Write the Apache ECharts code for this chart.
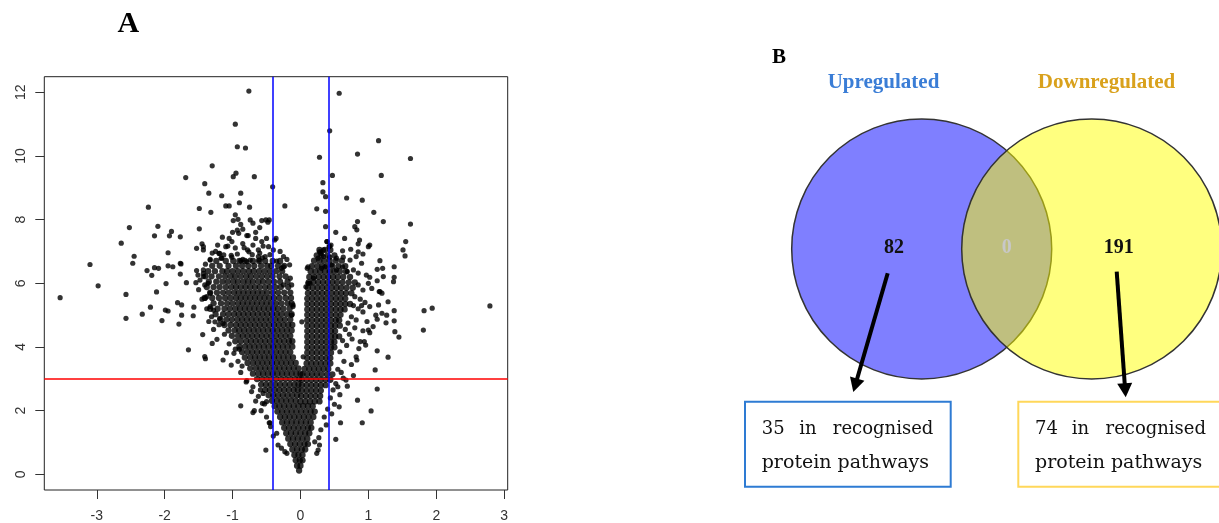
<!DOCTYPE html>
<html><head><meta charset="utf-8">
<script src="https://cdn.jsdelivr.net/npm/echarts@6/dist/echarts.min.js"></script>
<style>html,body{margin:0;padding:0;background:#fff}#c{width:1219px;height:523px}</style>
</head><body><div id="c"></div>
<script>
// ---- Panel A: volcano plot values (log2 fold change, -log10 p) ----
const xTicks=[-3,-2,-1,0,1,2,3];
const yTicks=[0,2,4,6,8,10,12];
const pThreshold=3;
const fcThresholds=[-0.415,0.415];

const leftOuter=[
[-3.54,5.55],[-3.10,6.59],[-2.98,5.92],[-2.57,5.65],[-2.57,4.90],[-2.47,6.63],[-2.33,5.03],[-2.26,6.40],[-2.21,5.25],[-2.19,6.25],[-2.15,6.49],[-2.09,6.47],[-2.12,5.73],[-2.04,4.83],[-1.99,5.16],[-1.95,5.13],[-1.98,5.99],[-1.95,6.55],[-1.88,6.52],[-1.77,6.63],[-1.77,6.29],[-1.81,5.39],[-1.75,5.32],[-1.75,5.00],[-1.79,4.72],[-1.68,6.02],[-1.65,3.91],[-1.58,4.98],[-1.57,5.25],[-1.54,6.02],[-1.44,4.39],[-1.41,3.70],[-1.40,3.63],[-1.43,6.31],[-1.30,4.11],[-1.23,4.24],[-1.14,3.59],[-1.09,3.82],[-1.02,3.43],[-0.96,3.93],[-0.90,3.93],[-0.86,3.40],[-0.79,2.94],[-0.88,2.15],[-0.70,1.94],[-0.68,2.00],[-0.51,0.76],[-0.59,2.65],[-0.55,2.54],[-0.53,2.21],[-0.46,1.62],
[-0.76,12.04],[-0.96,11.00],[-0.93,10.29],[-0.81,10.25],[-1.30,9.69],[-1.69,9.32],[-1.41,9.13],[-0.99,9.35],[-0.95,9.46],[-0.68,9.35],[-0.41,9.03],[-1.35,8.83],[-1.16,8.75],[-0.88,8.83],[-2.24,8.39],[-1.49,8.35],[-1.32,8.23],[-1.10,8.43],[-1.05,8.43],[-0.90,8.53],[-0.75,8.39],[-0.96,8.15],[-2.52,7.75],[-2.10,7.79],[-1.49,7.71],[-1.90,7.63],[-2.15,7.49],[-1.93,7.49],[-1.77,7.46],[-2.64,7.26],[-2.45,6.85],[-1.95,6.96],[-1.53,7.10],[-1.45,7.24],[-1.43,7.15],[-1.33,6.73],[-1.20,6.94],[-1.17,6.79],
[-0.23,8.43],[-0.99,7.97],[-0.92,8.01],[-0.88,7.85],[-0.74,7.99],[-0.70,7.89],[-0.57,7.97],[-0.46,7.99],[-0.51,7.99],[-0.48,7.92],
[-0.93,7.67],[-0.91,7.57],[-0.79,7.50],[-0.77,7.50],[-1.05,7.41],[-1.01,7.31],[-0.66,7.41],[-0.57,7.31],[-0.50,7.41],[-0.38,7.36],[-0.36,7.41],[-1.43,7.05],[-1.10,7.15],[-1.07,7.17],[-0.96,7.11],[-0.78,7.05],[-0.76,6.99],[-0.62,7.05],[-0.55,7.17],[-0.47,7.15],[-1.19,6.94],[-1.16,6.79],[-1.13,6.89],[-1.01,6.82],[-0.88,6.71],[-0.85,6.75],[-0.79,6.68],[-0.74,6.73],[-0.62,6.84],[-0.61,6.73],[-0.52,6.84],[-0.25,6.84],[-0.20,6.75],[-1.33,6.75],[-1.76,6.61],[-0.25,6.52],[-0.28,6.47],
[-1.53,6.40],[-1.43,6.42],[-1.51,6.26],[-1.43,6.21],[-1.41,5.95],[-1.36,6.00],[-1.38,5.58],[-1.33,5.69],[-1.41,5.53],[-1.33,5.27],[-1.28,5.16],[-1.31,4.95],[-1.26,4.79],[-1.19,4.90],[-1.14,4.74],
[-1.12,4.40],[-1.05,4.10],[-0.98,3.80],[-1.20,4.70],[-0.92,3.55],[-0.88,3.20],[-0.80,2.90],[-0.72,2.60],[-0.66,2.30],[-0.58,2.00],[-0.50,1.80],[-0.44,1.50],[-0.40,1.20],[-0.62,2.45],[-0.70,2.75],[-1.28,4.55],[-1.35,4.80],[-1.38,5.20],[-1.45,5.50],[-1.50,5.80],[-1.48,6.10],[-1.40,6.60],[-1.30,6.95],[-1.22,7.20],[-1.15,7.45],[-1.25,7.00],[-0.85,7.25],[-0.70,7.20],[-0.60,6.95],[-0.45,6.90],[-0.35,6.70],[-0.30,7.00],[-0.40,7.05],
[-1.02,6.88],[-0.93,6.92],[-0.71,6.90],[-0.56,6.80],[-0.83,7.12],[-0.66,7.60],[-0.85,7.70],[-0.60,7.75],[-1.00,7.60],
[-0.56,2.23],[-0.50,2.28],[-0.45,1.62],[-0.35,1.29],[-0.33,0.92],[-0.28,0.82],[-0.23,0.71],[-0.20,0.66],
[-0.15,6.16],[-0.13,5.95],[-0.25,5.95],[-0.16,6.58],[-0.11,5.32],[-0.13,5.00],[-0.11,5.27]
];

const leftCoreRows=[
[6.70,[-1.24,-1.10,-0.99,-0.90,-0.82,-0.70,-0.61,-0.52,-0.41,-0.30]],
[6.55,[-1.30,-1.19,-1.06,-0.95,-0.86,-0.77,-0.68,-0.58,-0.49,-0.43,-0.33,-0.24]],
[6.38,[-1.36,-1.26,-1.15,-1.08,-1.00,-0.92,-0.84,-0.76,-0.69,-0.61,-0.53,-0.45,-0.36,-0.27]],
[6.22,[-1.40,-1.31,-1.20,-1.11,-1.03,-0.96,-0.88,-0.80,-0.73,-0.65,-0.57,-0.49,-0.41,-0.31,-0.22]],
[6.05,[-1.35,-1.24,-1.15,-1.07,-0.99,-0.92,-0.84,-0.77,-0.70,-0.62,-0.55,-0.47,-0.39,-0.30,-0.19]],
[5.88,[-1.38,-1.28,-1.19,-1.10,-1.02,-0.95,-0.88,-0.81,-0.74,-0.67,-0.60,-0.52,-0.45,-0.37,-0.29,-0.18]],
[5.71,[-1.33,-1.23,-1.14,-1.06,-0.98,-0.91,-0.84,-0.77,-0.70,-0.63,-0.56,-0.49,-0.41,-0.33,-0.24,-0.15]],
[5.54,[-1.41,-1.30,-1.20,-1.11,-1.03,-0.95,-0.88,-0.81,-0.74,-0.67,-0.60,-0.53,-0.46,-0.39,-0.31,-0.22,-0.14]],
[5.37,[-1.28,-1.17,-1.08,-1.00,-0.92,-0.85,-0.78,-0.71,-0.64,-0.57,-0.50,-0.43,-0.36,-0.28,-0.19,-0.13]],
[5.20,[-1.33,-1.22,-1.12,-1.04,-0.96,-0.89,-0.82,-0.75,-0.68,-0.61,-0.54,-0.47,-0.40,-0.33,-0.25,-0.16]],
[5.03,[-1.25,-1.14,-1.06,-0.98,-0.91,-0.84,-0.77,-0.70,-0.63,-0.56,-0.49,-0.42,-0.35,-0.28,-0.20,-0.13]],
[4.86,[-1.18,-1.09,-1.01,-0.93,-0.86,-0.79,-0.72,-0.65,-0.58,-0.51,-0.44,-0.37,-0.30,-0.23,-0.15]],
[4.69,[-1.12,-1.03,-0.95,-0.88,-0.81,-0.74,-0.67,-0.60,-0.53,-0.46,-0.39,-0.32,-0.25,-0.18,-0.12]],
[4.52,[-1.06,-0.97,-0.90,-0.83,-0.76,-0.69,-0.62,-0.55,-0.48,-0.41,-0.34,-0.27,-0.20,-0.13]],
[4.35,[-1.01,-0.92,-0.85,-0.78,-0.71,-0.64,-0.57,-0.50,-0.43,-0.36,-0.29,-0.22,-0.15]],
[4.18,[-0.96,-0.88,-0.80,-0.73,-0.66,-0.59,-0.52,-0.45,-0.38,-0.31,-0.24,-0.17,-0.12]],
[4.01,[-0.90,-0.82,-0.75,-0.68,-0.61,-0.54,-0.47,-0.40,-0.33,-0.26,-0.19,-0.12]],
[3.84,[-0.86,-0.78,-0.71,-0.64,-0.57,-0.50,-0.43,-0.36,-0.29,-0.22,-0.15]],
[3.67,[-0.82,-0.74,-0.67,-0.60,-0.53,-0.46,-0.39,-0.32,-0.25,-0.18,-0.11]],
[3.50,[-0.78,-0.70,-0.63,-0.56,-0.49,-0.42,-0.35,-0.28,-0.21,-0.14,-0.07]],
[3.33,[-0.74,-0.66,-0.59,-0.52,-0.45,-0.38,-0.31,-0.24,-0.17,-0.10,-0.03]],
[3.16,[-0.70,-0.62,-0.55,-0.48,-0.41,-0.34,-0.27,-0.20,-0.13,-0.06,0.00]],
[2.99,[-0.64,-0.57,-0.50,-0.43,-0.36,-0.29,-0.22,-0.15,-0.08,-0.02]],
[2.82,[-0.58,-0.51,-0.44,-0.37,-0.30,-0.23,-0.16,-0.09,-0.03]],
[2.65,[-0.52,-0.45,-0.38,-0.31,-0.24,-0.17,-0.10,-0.04]],
[2.48,[-0.47,-0.40,-0.33,-0.26,-0.19,-0.12,-0.05]],
[2.31,[-0.42,-0.35,-0.28,-0.21,-0.14,-0.07]]
];

const stemRows=[
[2.14,[-0.38,-0.31,-0.24,-0.17,-0.10,-0.03,0.04,0.11,0.18]],
[1.97,[-0.34,-0.27,-0.20,-0.13,-0.06,0.01,0.08,0.15,0.21]],
[1.80,[-0.30,-0.23,-0.16,-0.09,-0.02,0.05,0.12,0.19]],
[1.63,[-0.27,-0.20,-0.13,-0.06,0.01,0.08,0.15]],
[1.46,[-0.24,-0.17,-0.10,-0.03,0.04,0.11,0.16]],
[1.29,[-0.21,-0.14,-0.07,0.00,0.07,0.13]],
[1.12,[-0.18,-0.11,-0.04,0.03,0.10]],
[0.95,[-0.15,-0.08,-0.01,0.06,0.11]],
[0.78,[-0.12,-0.05,0.02,0.07]],
[0.61,[-0.09,-0.03,0.03]],
[0.44,[-0.07,-0.01,0.03]],
[0.27,[-0.05,0.00]],
[0.12,[-0.02]]
];

const rightCoreRows=[
[7.05,[0.28,0.36,0.44]],
[6.88,[0.24,0.31,0.40,0.50]],
[6.71,[0.20,0.28,0.35,0.43,0.52,0.61]],
[6.54,[0.17,0.25,0.32,0.39,0.47,0.56,0.66]],
[6.37,[0.15,0.22,0.29,0.36,0.43,0.50,0.58,0.67]],
[6.20,[0.13,0.20,0.27,0.34,0.41,0.48,0.55,0.63,0.73]],
[6.03,[0.12,0.19,0.26,0.33,0.40,0.47,0.54,0.62,0.71,0.80]],
[5.86,[0.11,0.18,0.25,0.32,0.39,0.46,0.53,0.60,0.68,0.77]],
[5.69,[0.11,0.18,0.25,0.32,0.39,0.46,0.53,0.60,0.67,0.75]],
[5.52,[0.10,0.17,0.24,0.31,0.38,0.45,0.52,0.59,0.66]],
[5.35,[0.10,0.17,0.24,0.31,0.38,0.45,0.52,0.59,0.66,0.73]],
[5.18,[0.10,0.17,0.24,0.31,0.38,0.45,0.52,0.59,0.65]],
[5.01,[0.10,0.17,0.24,0.31,0.38,0.45,0.52,0.59]],
[4.84,[0.10,0.17,0.24,0.31,0.38,0.45,0.52,0.57]],
[4.67,[0.10,0.17,0.24,0.31,0.38,0.45,0.51,0.58]],
[4.50,[0.10,0.17,0.24,0.31,0.38,0.45,0.51]],
[4.33,[0.10,0.17,0.24,0.31,0.38,0.45,0.51,0.57]],
[4.16,[0.10,0.17,0.24,0.31,0.38,0.45,0.50]],
[3.99,[0.10,0.17,0.24,0.31,0.38,0.45,0.50]],
[3.82,[0.10,0.17,0.24,0.31,0.38,0.45]],
[3.65,[0.10,0.17,0.24,0.31,0.38,0.44]],
[3.48,[0.09,0.16,0.23,0.30,0.37,0.44]],
[3.31,[0.06,0.13,0.20,0.27,0.34,0.41]],
[3.14,[0.03,0.10,0.17,0.24,0.31,0.39,0.47]],
[2.97,[0.02,0.09,0.16,0.23,0.30,0.37,0.44]],
[2.80,[0.02,0.09,0.16,0.23,0.30,0.37]],
[2.63,[0.02,0.09,0.16,0.23,0.30]],
[2.46,[0.01,0.08,0.15,0.22,0.29]],
[2.29,[0.00,0.07,0.14,0.21,0.28]]
];

const rightOuter=[
[0.57,11.97],[0.43,10.79],[1.15,10.48],[0.28,9.96],[0.84,10.06],[1.62,9.92],[0.47,9.39],[1.19,9.39],[0.33,9.16],[0.33,8.87],[0.37,8.72],[0.68,8.68],[0.91,8.61],[0.24,8.34],[0.37,8.26],[1.08,8.23],[0.84,7.94],[0.80,7.78],[0.83,7.68],[1.22,7.94],[1.62,7.86],[0.37,7.78],[0.52,7.60],[0.65,7.41],[0.87,7.36],[0.85,7.24],[1.02,7.20],[1.00,7.15],[1.55,7.31],[0.39,7.31],[0.43,7.17],[0.30,6.99],[0.26,6.79],[0.34,6.84],[0.62,7.02],[0.74,7.07],[0.85,6.99],[0.92,6.92],[1.51,7.05],[1.54,6.86],[0.43,6.82],[0.53,6.79],[0.63,6.82],[0.73,6.73],[0.82,6.84],[0.90,6.63],[1.17,6.71],[1.21,6.47],[1.38,6.52],[0.10,6.47],[0.31,6.47],[0.36,6.52],[0.46,6.58],[0.53,6.42],[0.62,6.52],[0.69,6.37],[0.78,6.42],[0.85,6.32],[0.97,6.26],[1.02,6.19],[1.13,6.44],[1.38,6.19],[1.37,6.05],[0.08,5.89],[0.11,6.00],
[0.85,5.95],[0.92,5.79],[1.00,6.00],[1.05,5.84],[1.16,5.74],[1.20,5.69],[1.82,5.14],[1.94,5.22],[1.29,5.42],
[2.79,5.29],[1.81,4.53],[1.45,4.31],[1.39,4.48],[1.38,4.82],[1.38,5.14],[1.27,5.00],[1.26,4.76],[1.29,3.68],[1.13,3.88],[1.07,4.64],[1.10,3.28],[1.13,2.68],[0.84,2.33],[1.04,1.99],[0.91,1.62],[0.59,1.62],[0.52,1.10],[0.57,2.12],[0.69,2.77],[0.67,2.96],[0.63,3.02],[0.83,3.59],[0.82,3.69],[0.96,4.06],[0.94,4.17],[0.88,4.17],[1.02,4.45],[1.00,4.53],[0.92,4.51],[1.13,4.87],[1.11,5.00],[1.20,5.06],[1.02,5.27],[1.15,5.32],[1.17,5.74],[1.13,6.08],[1.22,6.21],
[0.28,6.99],[0.30,6.94],[0.34,7.05],[0.39,7.31],[0.42,7.15],[0.45,7.20],
[0.02,4.79],[0.04,3.69],[0.11,6.52],[0.14,6.00],[0.19,6.16],
[0.80,5.58],[0.88,5.50],[0.95,5.40],[0.85,5.20],[0.78,5.30],[0.92,5.10],[0.75,4.95],[0.70,4.75],[0.82,4.85],[0.66,4.55],[0.72,4.40],[0.62,4.20],[0.68,4.05],[0.58,3.85],[0.64,3.55],[0.55,3.30],[0.60,3.20],[0.75,3.45],[0.52,2.85],[0.48,2.65],[0.58,2.50],[0.44,2.40],[0.50,2.20],[0.40,2.05],[0.46,1.90],[0.35,1.80],[0.38,1.55],[0.30,1.40],[0.27,1.15],[0.55,2.75],[0.78,3.10],[0.86,3.95],[0.76,4.25],[0.80,4.60],[0.98,4.80],[0.90,5.30],
[0.26,0.76],[0.24,0.66],[0.28,0.92],[0.21,1.02]
];

// ---- Panel B: Venn values ----
const vennLabels=['Upregulated','Downregulated'];
const vennCounts={up:82,shared:0,down:191};
const pathwayCounts={up:35,down:74};

function rowsToPts(rows){const out=[];rows.forEach(r=>r[1].forEach(x=>out.push([x,r[0]])));return out;}
const outerPoints=leftOuter.concat(rightOuter);
const corePoints=rowsToPts(leftCoreRows).concat(rowsToPts(stemRows),rowsToPts(rightCoreRows));

function arrow(x1,y1,x2,y2,w,hl,hw){
  const dx=x2-x1,dy=y2-y1,L=Math.hypot(dx,dy),ux=dx/L,uy=dy/L;
  const bx=x2-ux*hl,by=y2-uy*hl;
  return [
    {type:'line',shape:{x1:x1,y1:y1,x2:bx+ux*1,y2:by+uy*1},style:{stroke:'#000',lineWidth:w}},
    {type:'polygon',shape:{points:[[x2,y2],[bx-uy*hw,by+ux*hw],[bx+uy*hw,by-ux*hw]]},style:{fill:'#000'}}
  ];
}
const serif='"Liberation Serif", "DejaVu Serif", serif';
const boxFont1='18px "DejaVu Serif", serif';
const boxFont2='19px "DejaVu Serif", serif';
function txt(t,x,y,font,fill,align){return {type:'text',x:x,y:y,style:{text:t,font:font,fill:fill,textAlign:align||'center',textVerticalAlign:'middle'}};}

const graphics=[
  txt('A',128.3,24,'bold 30px '+serif,'#000'),
  txt('B',779,58,'bold 21px '+serif,'#000'),
  {type:'circle',shape:{cx:921.7,cy:249,r:130},style:{fill:'rgba(0,0,255,0.5)',stroke:'#333',lineWidth:1.5}},
  {type:'circle',shape:{cx:1091.7,cy:249,r:130},style:{fill:'rgba(255,255,0,0.5)',stroke:'#333',lineWidth:1.5}},
  txt(vennLabels[0],883.5,83,'bold 21px '+serif,'#3A7DD6'),
  txt(vennLabels[1],1106.5,83,'bold 21px '+serif,'#D9A11C'),
  txt(String(vennCounts.up),894,248,'bold 20px '+serif,'#111'),
  txt(String(vennCounts.shared),1006.7,248,'bold 20px '+serif,'#c8c8c8'),
  txt(String(vennCounts.down),1118.7,248,'bold 20px '+serif,'#111'),
  ...arrow(887.7,273.3,853.3,392,4,14,7.5),
  ...arrow(1116.7,271.7,1125.7,397.3,4,14,7.5),
  {type:'rect',shape:{x:745,y:401.7,width:205.7,height:85},style:{fill:'#fff',stroke:'#2E7BD3',lineWidth:2}},
  {type:'rect',shape:{x:1018.3,y:401.7,width:215,height:85},style:{fill:'#fff',stroke:'#FFD75A',lineWidth:2}},
  txt(String(pathwayCounts.up),761.7,429,boxFont1,'#111','left'),
  txt('in',807.8,429,boxFont1,'#111','center'),
  txt('recognised',933.3,429,boxFont1,'#111','right'),
  txt('protein pathways',761.7,463,boxFont2,'#111','left'),
  txt(String(pathwayCounts.down),1035,429,boxFont1,'#111','left'),
  txt('in',1080.5,429,boxFont1,'#111','center'),
  txt('recognised',1206,429,boxFont1,'#111','right'),
  txt('protein pathways',1035,463,boxFont2,'#111','left')
];

const axisFont='"Liberation Sans", Arial, sans-serif';
const chart=echarts.init(document.getElementById('c'),null,{renderer:'canvas'});
chart.setOption({
  animation:false,
  grid:{left:44.3,top:76.7,width:463.4,height:413.3,show:true,borderColor:'#222',borderWidth:1,backgroundColor:'transparent',containLabel:false},
  xAxis:{type:'value',min:-3.773,max:3.052,
    axisLine:{show:false,onZero:false},splitLine:{show:false},
    axisTick:{show:true,customValues:xTicks,length:9,lineStyle:{color:'#333',width:1}},
    axisLabel:{customValues:xTicks,margin:19,fontSize:14,color:'#333',fontFamily:axisFont}},
  yAxis:{type:'value',min:-0.493,max:12.49,
    axisLine:{show:false,onZero:false},splitLine:{show:false},
    axisTick:{show:true,customValues:yTicks,length:9,lineStyle:{color:'#333',width:1}},
    axisLabel:{customValues:yTicks,rotate:90,margin:16,fontSize:14,color:'#333',fontFamily:axisFont}},
  series:[
    {type:'scatter',data:corePoints,symbol:'circle',symbolSize:6.3,itemStyle:{color:'#000'},silent:true},
    {type:'scatter',data:outerPoints,symbol:'circle',symbolSize:5.2,itemStyle:{color:'#000'},silent:true},
    {type:'scatter',name:'pLine',data:[],color:'#ff0000',itemStyle:{color:'#ff0000'},silent:true,z:5,
      markLine:{silent:true,symbol:['none','none'],label:{show:false},animation:false,
        lineStyle:{color:'#ff0000',width:1.6,type:'solid',opacity:1},
        emphasis:{disabled:true},
        data:[{yAxis:pThreshold}]}},
    {type:'scatter',name:'fcLines',data:[],color:'#0000ff',itemStyle:{color:'#0000ff'},silent:true,z:5,
      markLine:{silent:true,symbol:['none','none'],label:{show:false},animation:false,
        lineStyle:{color:'#0000ff',width:1.5,type:'solid',opacity:1},
        emphasis:{disabled:true},
        data:[{xAxis:fcThresholds[0]},{xAxis:fcThresholds[1]}]}}
  ],
  graphic:{elements:graphics}
});
</script></body></html>
